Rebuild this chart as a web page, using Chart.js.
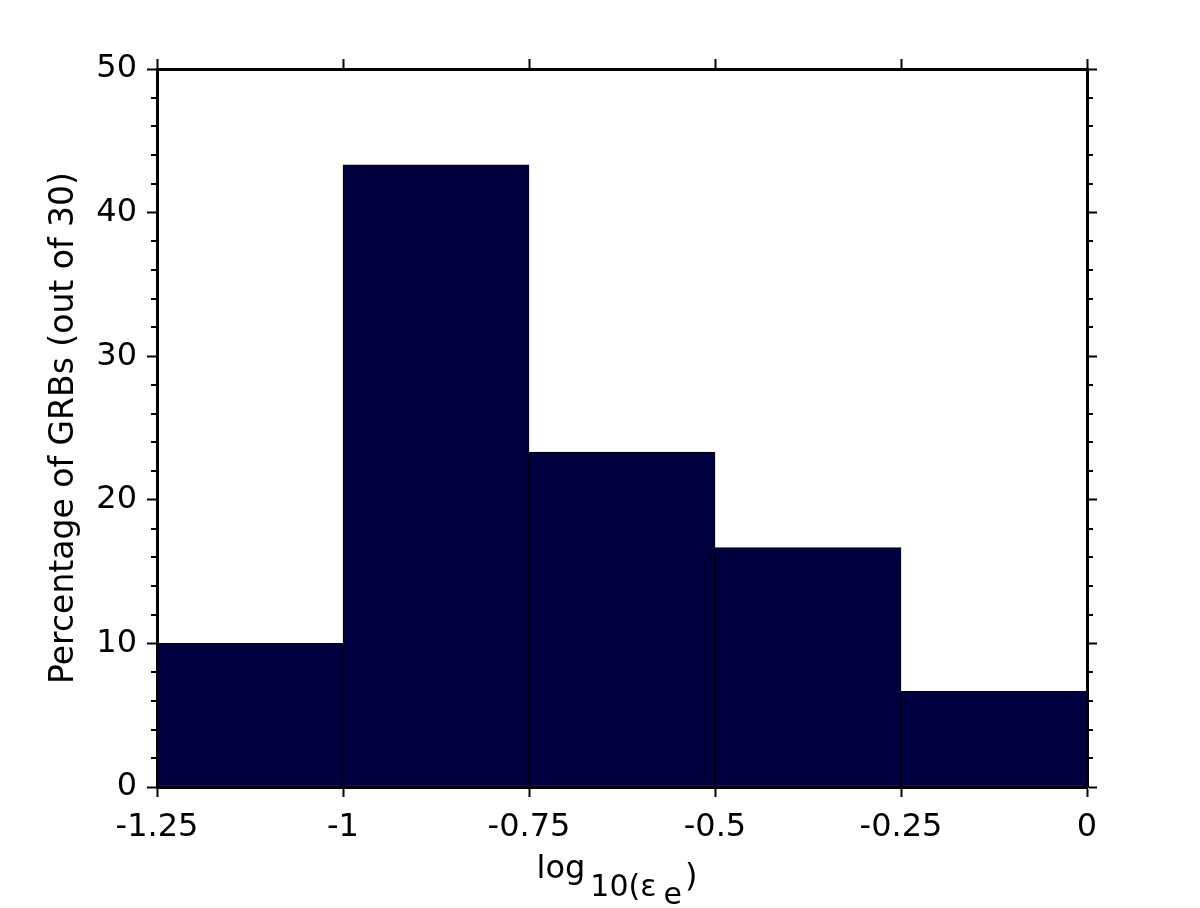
<!DOCTYPE html>
<html>
<head>
<meta charset="utf-8">
<script src="https://cdn.jsdelivr.net/npm/chart.js@4.4.1/dist/chart.umd.min.js"></script>
<style>
  body { margin: 0; background: #fff; }
  canvas { display: block; }
</style>
</head>
<body>
<canvas id="histChart" width="1200" height="908"></canvas>
<script>
// histogram of log10(eps_e), 30 GRBs, bins of 0.25
const bins = ['-1.25..-1', '-1..-0.75', '-0.75..-0.5', '-0.5..-0.25', '-0.25..0'];
const percent = [10, 43.33, 23.33, 16.67, 6.67];
const xTickLabels = ['-1.25', '-1', '-0.75', '-0.5', '-0.25', '0'];
const yTickLabels = ['0', '10', '20', '30', '40', '50'];

const FONT = 'DejaVu Sans';
Chart.defaults.font.family = FONT;
Chart.defaults.color = '#000';

const fixWidth = w => s => { s.width = w; };
const fixHeight = h => s => { s.height = h; };
const noLabel = () => '';

// minor y ticks + x title with subscripts
const extras = {
    id: 'extras',
    afterDraw(chart) {
        const c = chart.ctx;
        const y = chart.scales.y;
        const area = chart.chartArea;
        c.save();
        c.strokeStyle = '#000';
        c.lineWidth = 2;
        for (let v = 2; v < 50; v += 2) {
            if (v % 10 === 0) continue;
            const py = Math.round(y.getPixelForValue(v));
            c.beginPath();
            c.moveTo(area.left - 6, py); c.lineTo(area.left, py);
            c.moveTo(area.right, py); c.lineTo(area.right + 6, py);
            c.stroke();
        }

        // log10(eps_e)
        const parts = [
            { t: 'log', size: 32, dy: 0, gap: 5 },
            { t: '10(\u03b5', size: 30, dy: 18, gap: 7 },
            { t: 'e', size: 30, dy: 26, gap: 3 },
            { t: ')', size: 32, dy: 8, gap: 0 }
        ];
        let total = 0;
        parts.forEach(p => {
            c.font = p.size + 'px "' + FONT + '"';
            p.w = c.measureText(p.t).width;
            total += p.w + p.gap;
        });
        let x = (area.left + area.right) / 2 - total / 2 - 5;
        const base = 878;
        c.fillStyle = '#000';
        c.textBaseline = 'alphabetic';
        c.textAlign = 'left';
        parts.forEach(p => {
            c.font = p.size + 'px "' + FONT + '"';
            c.fillText(p.t, x, base + p.dy);
            x += p.w + p.gap;
        });
        c.restore();
    }
};

const axisBorder = { display: true, color: '#000', width: 3 };
const tickGrid = { drawOnChartArea: false, drawTicks: true, tickLength: 10, tickColor: '#000', tickWidth: 2, offset: false };

new Chart(document.getElementById('histChart'), {
    type: 'bar',
    data: {
        labels: bins,
        datasets: [{
            data: percent,
            xAxisID: 'xc',
            yAxisID: 'y',
            backgroundColor: '#000040',
            borderColor: '#000',
            borderWidth: 1,
            borderSkipped: false,
            barPercentage: 1,
            categoryPercentage: 1
        }]
    },
    options: {
        responsive: false,
        animation: false,
        layout: { padding: 0 },
        plugins: { legend: { display: false }, tooltip: { enabled: false } },
        scales: {
            xc: { type: 'category', display: false, offset: true },
            x: {
                type: 'linear', position: 'bottom', min: -1.25, max: 0, z: 1, offset: false,
                afterFit: fixHeight(121),
                border: axisBorder, grid: tickGrid,
                ticks: { stepSize: 0.25, font: { size: 32 }, padding: 11, maxRotation: 0, autoSkip: false,
                         callback: (v, i) => xTickLabels[i] }
            },
            x2: {
                type: 'linear', position: 'top', min: -1.25, max: 0, z: 1, offset: false,
                afterFit: fixHeight(69),
                border: axisBorder, grid: tickGrid,
                ticks: { stepSize: 0.25, callback: noLabel }
            },
            y: {
                type: 'linear', position: 'left', min: 0, max: 50, z: 1,
                afterFit: fixWidth(157),
                border: axisBorder, grid: tickGrid,
                ticks: { stepSize: 10, font: { size: 32 }, padding: 10,
                         callback: (v, i) => yTickLabels[i] },
                title: { display: true, text: 'Percentage of GRBs (out of 30)', font: { size: 33 },
                         padding: { top: 45, bottom: 0 } }
            },
            y2: {
                type: 'linear', position: 'right', min: 0, max: 50, z: 1,
                afterFit: fixWidth(113),
                border: axisBorder, grid: tickGrid,
                ticks: { stepSize: 10, callback: noLabel }
            }
        }
    },
    plugins: [extras]
});
</script>
</body>
</html>
